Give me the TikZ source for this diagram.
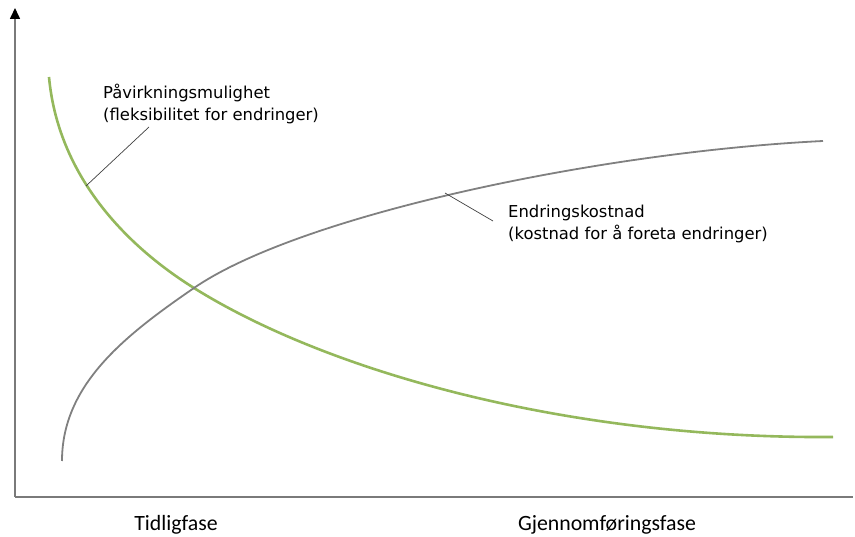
\documentclass[tikz,border=0pt]{standalone}
\usepackage{fontspec}
\setmainfont{DejaVu Sans}
\newfontfamily\fasefont{Carlito}
\usepackage{tikz}
\usetikzlibrary{arrows.meta,positioning}
\definecolor{kurvegronn}{HTML}{94B85C}
\definecolor{kurvegraa}{HTML}{808080}
\definecolor{aksegraa}{HTML}{7A7A7A}

\begin{document}
\begin{tikzpicture}[x=1pt,y=-1pt]
	\tikzset{
		akse/.style={draw=aksegraa,line width=1.6pt},
		pvkurve/.style={draw=kurvegronn,line width=2.6pt},
		ekkurve/.style={draw=kurvegraa,line width=1.8pt},
		leder/.style={draw=black!75,line width=0.7pt},
		etikett/.style={inner sep=0pt,align=left,font=\fontsize{16.4}{21.5}\selectfont},
		fase/.style={inner sep=0pt,font=\fasefont\fontsize{21.8}{26}\selectfont}
	}
	\useasboundingbox (0,0) rectangle (855,537);
	\coordinate (o) at (15,497);
	\coordinate (ytopp) at (15,8);
	\coordinate (xslutt) at (853,497);
	\draw[akse] (o) -- (xslutt);
	\draw[akse,-{Triangle[length=11pt,width=10pt,color=black]}] (o) -- (ytopp);
	\coordinate (kryss) at (194,288);
	\draw[pvkurve] (49,77) .. controls (58,175) and (125,245) .. (kryss)
		.. controls (330,373) and (570,439) .. (833,437);
	\draw[ekkurve] (62,461) .. controls (62,385) and (124,336) .. (kryss)
		.. controls (300,215) and (600,152) .. (823,141);
	\coordinate (pv) at (86,186);
	\coordinate (pvende) at (149,127);
	\coordinate (ek) at (445,193);
	\coordinate (ekende) at (493,221);
	\node[etikett,anchor=north west] (pvtekst) at (103,84) {Påvirkningsmulighet\\(fleksibilitet for endringer)};
	\node[etikett,anchor=north west] (ektekst) at (508,205) {Endringskostnad\\(kostnad for å foreta endringer)};
	\draw[leder] (pv) -- (pvende);
	\draw[leder] (ek) -- (ekende);
	\node[fase,anchor=base] (tidlig) at (176,530) {Tidligfase};
	\node[fase,anchor=base] (gjennom) at (607,530) {Gjennomføringsfase};
\end{tikzpicture}
\end{document}
